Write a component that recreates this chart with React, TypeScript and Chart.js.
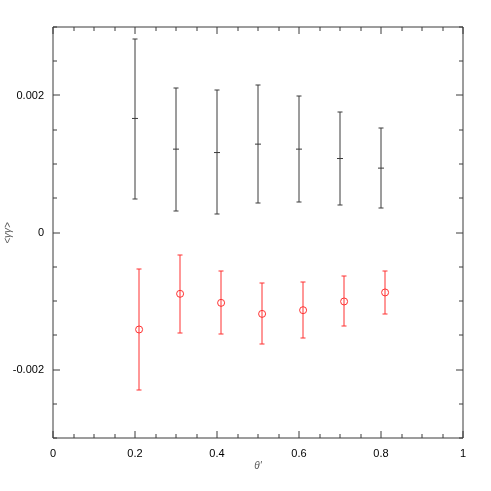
import React, { useEffect, useRef } from "react";
import { Chart, registerables } from "chart.js";

Chart.register(...registerables);

// Black series
const blackX = [0.2, 0.3, 0.4, 0.5, 0.6, 0.7, 0.8];
const blackY = [0.001665, 0.001217, 0.001167, 0.00129, 0.001217, 0.00108, 0.00094];
const blackHi = [0.00283, 0.00211, 0.002075, 0.002154, 0.001997, 0.001753, 0.001519];
const blackLo = [0.000495, 0.000319, 0.000266, 0.000427, 0.000442, 0.000407, 0.000363];

// Red series
const redX = [0.21, 0.31, 0.41, 0.51, 0.61, 0.71, 0.81];
const redY = [-0.001416, -0.000895, -0.001027, -0.001188, -0.001134, -0.001007, -0.000875];
const redHi = [-0.000538, -0.000325, -0.000568, -0.000743, -0.000724, -0.000641, -0.000559];
const redLo = [-0.002294, -0.00146, -0.001485, -0.001627, -0.001543, -0.001372, -0.001192];

const xTicks = [0, 0.2, 0.4, 0.6, 0.8, 1];
const xTickLabels = ["0", "0.2", "0.4", "0.6", "0.8", "1"];
const xMinorStep = 0.05;
const yTicks = [-0.002, 0, 0.002];
const yTickLabels = ["-0.002", "0", "0.002"];
const yMinorStep = 0.0005;

const xTitle = "θ'";
const yTitle = "<γγ>";

const BLACK = "#3a3a3a";
const RED = "#ff3030";

const framePlugin = {
  id: "frame",
  afterDatasetsDraw(chart: any) {
    const ctx = chart.ctx;
    const xs = chart.scales.x;
    const ys = chart.scales.y;
    const { left, right, top, bottom } = chart.chartArea;
    const r = (v: number) => Math.round(v);

    const drawBars = (X: number[], Hi: number[], Lo: number[], color: string) => {
      ctx.save();
      ctx.strokeStyle = color;
      ctx.lineWidth = 1;
      X.forEach((xv, i) => {
        const px = r(xs.getPixelForValue(xv));
        const ph = r(ys.getPixelForValue(Hi[i]));
        const pl = r(ys.getPixelForValue(Lo[i]));
        ctx.beginPath();
        ctx.moveTo(px, ph);
        ctx.lineTo(px, pl);
        ctx.moveTo(px - 2.5, ph);
        ctx.lineTo(px + 2.5, ph);
        ctx.moveTo(px - 2.5, pl);
        ctx.lineTo(px + 2.5, pl);
        ctx.stroke();
      });
      ctx.restore();
    };
    drawBars(blackX, blackHi, blackLo, BLACK);
    drawBars(redX, redHi, redLo, RED);

    ctx.save();
    ctx.strokeStyle = BLACK;
    ctx.lineWidth = 1;
    ctx.beginPath();
    ctx.rect(r(left), r(top), r(right) - r(left), r(bottom) - r(top));
    ctx.stroke();

    const major = 7;
    const minor = 4;
    ctx.beginPath();
    for (let k = 0; k <= 20; k++) {
      const v = k * xMinorStep;
      const len = k % 4 === 0 ? major : minor;
      const px = r(xs.getPixelForValue(v));
      ctx.moveTo(px, r(bottom));
      ctx.lineTo(px, r(bottom) - len);
      ctx.moveTo(px, r(top));
      ctx.lineTo(px, r(top) + len);
    }
    for (let k = -6; k <= 6; k++) {
      const v = k * yMinorStep;
      const len = k % 4 === 0 ? major : minor;
      const py = r(ys.getPixelForValue(v));
      ctx.moveTo(r(left), py);
      ctx.lineTo(r(left) + len, py);
      ctx.moveTo(r(right), py);
      ctx.lineTo(r(right) - len, py);
    }
    ctx.stroke();

    ctx.fillStyle = "#555555";
    ctx.font = "italic 10px 'Liberation Sans', Arial, sans-serif";
    ctx.textAlign = "center";
    ctx.textBaseline = "middle";
    ctx.fillText(xTitle, 258, 466);
    ctx.translate(8, 233);
    ctx.rotate(-Math.PI / 2);
    ctx.fillText(yTitle, 0, 0);
    ctx.restore();
  },
};

export default function App() {
  const ref = useRef<HTMLCanvasElement | null>(null);
  useEffect(() => {
    if (!ref.current) return;
    const chart = new Chart(ref.current, {
      type: "scatter",
      data: {
        datasets: [
          {
            label: "black",
            data: blackX.map((x, i) => ({ x, y: blackY[i] })),
            pointStyle: "line",
            pointRadius: 3,
            borderColor: BLACK,
            backgroundColor: BLACK,
            borderWidth: 1,
          },
          {
            label: "red",
            data: redX.map((x, i) => ({ x, y: redY[i] })),
            pointStyle: "circle",
            pointRadius: 3.5,
            borderColor: RED,
            backgroundColor: "rgba(0,0,0,0)",
            borderWidth: 1,
          },
        ],
      },
      options: {
        animation: false,
        responsive: false,
        devicePixelRatio: 1,
        layout: { padding: { top: 27, right: 28, left: 0, bottom: 0 } },
        plugins: { legend: { display: false }, tooltip: { enabled: false } },
        scales: {
          x: {
            type: "linear",
            min: 0,
            max: 1,
            grid: { display: false, drawTicks: false },
            border: { display: false },
            afterBuildTicks: (s: any) => {
              s.ticks = xTicks.map((v) => ({ value: v }));
            },
            afterFit: (s: any) => {
              s.height = 53;
            },
            ticks: {
              padding: 9,
              color: "#000000",
              font: { family: "'Liberation Sans', Arial, sans-serif", size: 11 },
              maxRotation: 0,
              callback: (v: any) => {
                const i = xTicks.findIndex((t) => Math.abs(t - Number(v)) < 1e-9);
                return i >= 0 ? xTickLabels[i] : "";
              },
            },
          },
          y: {
            type: "linear",
            min: -0.003,
            max: 0.003,
            grid: { display: false, drawTicks: false },
            border: { display: false },
            afterBuildTicks: (s: any) => {
              s.ticks = yTicks.map((v) => ({ value: v }));
            },
            afterFit: (s: any) => {
              s.width = 53;
            },
            ticks: {
              padding: 9,
              color: "#000000",
              font: { family: "'Liberation Sans', Arial, sans-serif", size: 11 },
              callback: (v: any) => {
                const i = yTicks.findIndex((t) => Math.abs(t - Number(v)) < 1e-9);
                return i >= 0 ? yTickLabels[i] : "";
              },
            },
          },
        },
      },
      plugins: [framePlugin],
    });
    return () => chart.destroy();
  }, []);
  return (
    <div style={{ position: "fixed", left: 0, top: 0, width: 491, height: 491, background: "#fff" }}>
      <canvas ref={ref} width={491} height={491} style={{ width: 491, height: 491 }} />
    </div>
  );
}
